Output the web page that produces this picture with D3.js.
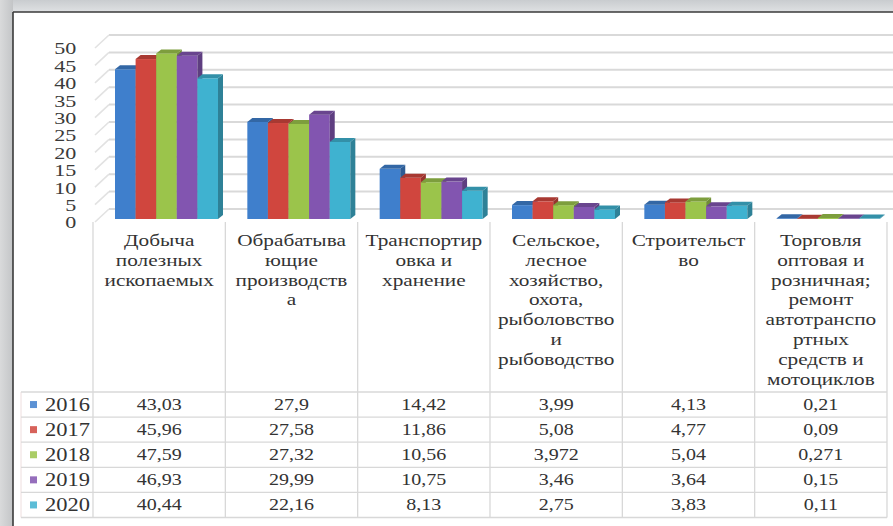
<!DOCTYPE html>
<html>
<head>
<meta charset="utf-8">
<script src="https://cdn.jsdelivr.net/npm/d3@7"></script>
<style>
  html, body { margin: 0; padding: 0; background: #ffffff; }
  svg { display: block; }
</style>
</head>
<body>
<svg id="chart" width="893" height="526"></svg>
<script>
// Category labels, split into the lines shown under the columns
const categories = [
  ["Добыча", "полезных", "ископаемых"],
  ["Обрабатыва", "ющие", "производств", "а"],
  ["Транспортир", "овка и", "хранение"],
  ["Сельское,", "лесное", "хозяйство,", "охота,", "рыболовство", "и", "рыбоводство"],
  ["Строительст", "во"],
  ["Торговля", "оптовая и", "розничная;", "ремонт", "автотранспо", "ртных", "средств и", "мотоциклов"]
];
const years = ["2016", "2017", "2018", "2019", "2020"];
const values2016 = [43.03, 27.9, 14.42, 3.99, 4.13, 0.21];
const values2017 = [45.96, 27.58, 11.86, 5.08, 4.77, 0.09];
const values2018 = [47.59, 27.32, 10.56, 3.972, 5.04, 0.271];
const values2019 = [46.93, 29.99, 10.75, 3.46, 3.64, 0.15];
const values2020 = [40.44, 22.16, 8.13, 2.75, 3.83, 0.11];
const yTicks = [0, 5, 10, 15, 20, 25, 30, 35, 40, 45, 50];

const seriesValues = [values2016, values2017, values2018, values2019, values2020];
const colors = ["#3f7fcc", "#d0463e", "#9bc44b", "#8255b0", "#3fb2d0"];

const FONT = "'Liberation Serif', 'Times New Roman', serif";
const TEXT_COLOR = "#333333";

const svg = d3.select("#chart");
const W = 893, H = 526;
const SX = 1.25; // horizontal stretch of the serif lettering

// ---- frame ----
const defs = svg.append("defs");
const gTop = defs.append("linearGradient").attr("id", "topBand").attr("x1", 0).attr("y1", 0).attr("x2", 0).attr("y2", 1);
gTop.append("stop").attr("offset", 0).attr("stop-color", "#c9cccf");
gTop.append("stop").attr("offset", 1).attr("stop-color", "#dfe1e3");
const gLeft = defs.append("linearGradient").attr("id", "leftBand").attr("x1", 0).attr("y1", 0).attr("x2", 1).attr("y2", 0);
gLeft.append("stop").attr("offset", 0).attr("stop-color", "#d9dadb");
gLeft.append("stop").attr("offset", 1).attr("stop-color", "#c3c5c7");

svg.append("rect").attr("x", 0).attr("y", 0).attr("width", W).attr("height", H).attr("fill", "#ffffff");
svg.append("rect").attr("x", 0).attr("y", 0).attr("width", W).attr("height", 12).attr("fill", "url(#topBand)");
svg.append("rect").attr("x", 0).attr("y", 0).attr("width", 13).attr("height", H).attr("fill", "url(#leftBand)");
svg.append("line").attr("x1", 13).attr("x2", W).attr("y1", 12).attr("y2", 12).attr("stroke", "#3a3a3a").attr("stroke-width", 1.6);
svg.append("line").attr("x1", 13).attr("x2", 13).attr("y1", 12).attr("y2", H).attr("stroke", "#3a3a3a").attr("stroke-width", 1.6);

// ---- scales ----
const y = d3.scaleLinear().domain([0, 50]).range([222, 48]);
const x = d3.scaleBand().domain(d3.range(categories.length)).range([93, 887]).padding(0);
const xi = d3.scaleBand().domain(years).range([22, 125]).padding(0);

const WALL_DX = 14, WALL_DY = -13;   // depth of the back wall
const BAR_DX = 5, BAR_DY = -4;       // depth of each column
const BAR_SHIFT = -3;                // columns sit slightly behind the front edge

// ---- walls: back-wall gridlines and side-wall slants ----
const grid = svg.append("g");
yTicks.forEach(t => {
  grid.append("line")
    .attr("x1", 95 + WALL_DX).attr("x2", W)
    .attr("y1", y(t) + WALL_DY).attr("y2", y(t) + WALL_DY)
    .attr("stroke", "#d9d9d9").attr("stroke-width", 2);
  grid.append("line")
    .attr("x1", 95).attr("x2", 95 + WALL_DX)
    .attr("y1", y(t)).attr("y2", y(t) + WALL_DY)
    .attr("stroke", "#e2e2e2").attr("stroke-width", 1.6);
});

// ---- y axis ----
const axis = svg.append("g")
  .attr("transform", "translate(62,0)")
  .call(d3.axisLeft(y).tickValues(yTicks).tickSize(0).tickPadding(0));
axis.attr("font-family", null).attr("font-size", null);
axis.select(".domain").remove();
axis.selectAll("text")
  .attr("x", 11).attr("dy", "0.35em")
  .attr("text-anchor", "end")
  .attr("transform", "scale(1.3,1)")
  .style("font-family", FONT)
  .style("font-size", "17px")
  .attr("fill", "#3a3a3a");

// ---- 3D columns ----
const bars = svg.append("g");
categories.forEach((cat, ci) => {
  years.forEach((yr, si) => {
    const v = seriesValues[si][ci];
    const x0 = x(ci) + xi(yr);
    const w = xi.bandwidth();
    const yt = y(v) + BAR_SHIFT;
    const yb = y(0) + BAR_SHIFT;
    const base = d3.color(colors[si]);
    const side = base.darker(0.9);
    const top = base.darker(0.6);
    const g = bars.append("g");
    g.append("rect").attr("x", x0).attr("y", yt).attr("width", w).attr("height", yb - yt).attr("fill", base.formatHex());
    g.append("polygon")
      .attr("points", [[x0 + w, yt], [x0 + w + BAR_DX, yt + BAR_DY], [x0 + w + BAR_DX, yb + BAR_DY], [x0 + w, yb]].join(" "))
      .attr("fill", side.formatHex());
    g.append("polygon")
      .attr("points", [[x0, yt], [x0 + BAR_DX, yt + BAR_DY], [x0 + w + BAR_DX, yt + BAR_DY], [x0 + w, yt]].join(" "))
      .attr("fill", top.formatHex());
  });
});

// ---- data table ----
const rowTop = 392, rowH = 25.1;
const table = svg.append("g");
const lineColor = "#d8d8d8";
// vertical column dividers
d3.range(categories.length + 1).forEach(i => {
  const xx = i < categories.length ? x(i) : x(categories.length - 1) + x.bandwidth();
  table.append("line").attr("x1", xx).attr("x2", xx).attr("y1", 222).attr("y2", rowTop + rowH * years.length)
    .attr("stroke", lineColor).attr("stroke-width", 1.3);
});
// left edge of the legend column
table.append("line").attr("x1", 21).attr("x2", 21).attr("y1", rowTop).attr("y2", rowTop + rowH * years.length)
  .attr("stroke", "#eedede").attr("stroke-width", 1);
// horizontal row lines
d3.range(years.length + 1).forEach(r => {
  const yy = rowTop + r * rowH;
  table.append("line").attr("x1", 21).attr("x2", 887).attr("y1", yy).attr("y2", yy)
    .attr("stroke", lineColor).attr("stroke-width", 1.3);
});

// stretched serif label anchored at (px, py)
function label(px, py, str, size, anchor) {
  table.append("g").attr("transform", `translate(${px},${py})`)
    .append("text")
    .attr("text-anchor", anchor)
    .attr("transform", `scale(${SX},1)`)
    .style("font-family", FONT)
    .style("font-size", size + "px")
    .style("fill", TEXT_COLOR)
    .text(str);
}

// category headers
categories.forEach((lines, ci) => {
  const cx = x(ci) + x.bandwidth() / 2;
  lines.forEach((ln, li) => label(cx, 246 + li * 19.8, ln, 17, "middle"));
});

// rows: legend key, year, values
years.forEach((yr, si) => {
  const cy = rowTop + rowH * si + rowH / 2;
  table.append("rect").attr("x", 30).attr("y", cy - 3.5).attr("width", 7).attr("height", 7)
    .attr("fill", colors[si]).attr("opacity", 0.85);
  label(45, cy + 6, yr, 18, "start");
  seriesValues[si].forEach((v, ci) => {
    const cx = x(ci) + x.bandwidth() / 2;
    label(cx, cy + 5.5, String(v).replace(".", ","), 16, "middle");
  });
});
</script>
</body>
</html>
